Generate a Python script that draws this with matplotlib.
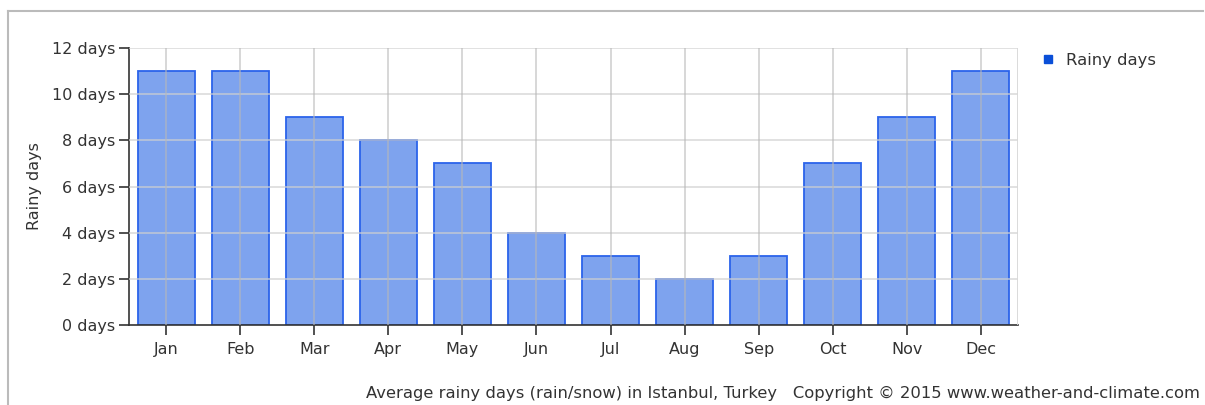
import matplotlib
matplotlib.use("Agg")
import matplotlib.pyplot as plt
from matplotlib.lines import Line2D

months = ["Jan", "Feb", "Mar", "Apr", "May", "Jun", "Jul", "Aug", "Sep", "Oct", "Nov", "Dec"]
rainy_days = [11, 11, 9, 8, 7, 4, 3, 2, 3, 7, 9, 11]
y_ticks = [0, 2, 4, 6, 8, 10, 12]
y_labels = [str(v) + " days" for v in y_ticks]

plt.rcParams['font.family'] = ['DejaVu Sans']

fig = plt.figure(figsize=(12.05, 4.05), dpi=100)
ax = fig.add_axes([129 / 1205, 1 - 325 / 405, 889 / 1205, 277 / 405])

x = range(len(months))
ax.bar(x, rainy_days, width=0.77, color="#7ea3ee", edgecolor="#2b63ea",
       linewidth=1.3, zorder=2)

ax.set_xlim(-0.5, 11.5)
ax.set_ylim(0, 12)
ax.set_xticks(list(x))
ax.set_xticklabels(months)
ax.set_yticks(y_ticks)
ax.set_yticklabels(y_labels)

# grid drawn over bars, faint
for v in y_ticks[1:]:
    ax.axhline(v, color="#d0d0d0", lw=1.3, zorder=3, alpha=0.7)
for i in x:
    ax.axvline(i, color="#b8b8b8", lw=1.3, zorder=3, alpha=0.6)
ax.axvline(11.5, color="#d8d8d8", lw=1.3, zorder=3)

for s in ["top", "right"]:
    ax.spines[s].set_visible(False)
for s in ["left", "bottom"]:
    ax.spines[s].set_color("#333333")
    ax.spines[s].set_linewidth(1.2)
ax.tick_params(axis="both", length=7, width=1.2, color="#333333",
               labelsize=11.5, labelcolor="#333333")
ax.tick_params(axis="x", pad=5)
ax.tick_params(axis="y", pad=3)

ax.set_ylabel("Rainy days", fontsize=11.5, color="#333333", labelpad=7)

# legend
handle = Line2D([], [], marker="s", linestyle="none", markersize=6,
                markerfacecolor="#0a4fd8", markeredgecolor="#0a4fd8")
fig.legend([handle], ["Rainy days"], loc="upper left",
           bbox_to_anchor=(1025 / 1205, 1 - 46 / 405), frameon=False,
           fontsize=11.8, labelcolor="#333333", handletextpad=0.1,
           borderaxespad=0)

fig.text(1200 / 1205, 1 - 393 / 405,
         "Average rainy days (rain/snow) in Istanbul, Turkey   Copyright \u00a9 2015 www.weather-and-climate.com",
         ha="right", va="center", fontsize=11.8, color="#333333")

# outer border (top and left)
fig.add_artist(Line2D([8 / 1205, 8 / 1205], [0, 1 - 11 / 405],
                      transform=fig.transFigure, color="#bbbbbb", lw=1.5))
fig.add_artist(Line2D([8 / 1205, 1203 / 1205], [1 - 11 / 405, 1 - 11 / 405],
                      transform=fig.transFigure, color="#bbbbbb", lw=1.5))

fig.savefig("out.png", dpi=100)
